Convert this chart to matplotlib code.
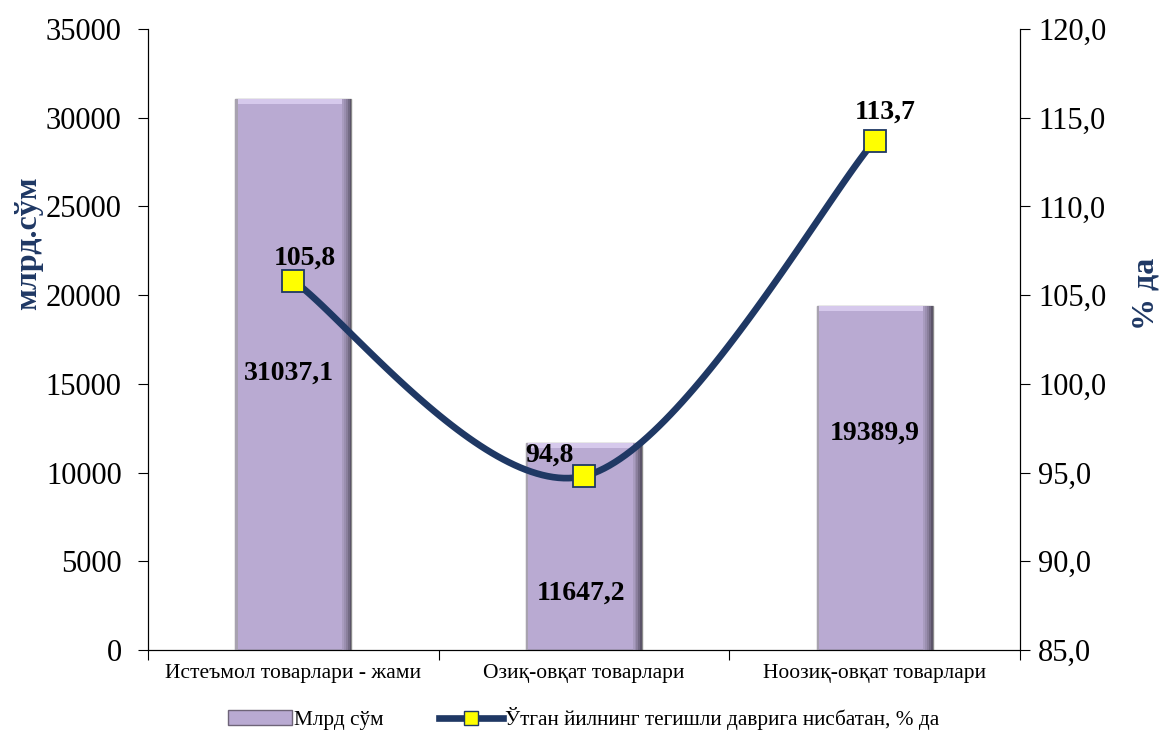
import numpy as np
import matplotlib.pyplot as plt
from matplotlib.lines import Line2D
from matplotlib.patches import Patch

plt.rcParams['font.family'] = ['Liberation Serif', 'DejaVu Serif']

categories = ["Истеъмол товарлари - жами", "Озиқ-овқат товарлари", "Ноозиқ-овқат товарлари"]
mlrd_sum = [31037.1, 11647.2, 19389.9]
percent = [105.8, 94.8, 113.7]
bar_labels = ["31037,1", "11647,2", "19389,9"]
pct_labels = ["105,8", "94,8", "113,7"]

navy = '#1f3864'
bar_color = '#b9aad2'

fig = plt.figure(figsize=(11.63, 7.35), dpi=100)
ax = fig.add_axes([0.1273, 0.1156, 0.7497, 0.845])
ax2 = ax.twinx()

x = np.arange(len(categories))
w = 0.4
ax.bar(x, mlrd_sum, width=w, color=bar_color, edgecolor='#8a8a8a', linewidth=1.0, zorder=2)
# bevel: light strip at the top, darker shading at the right edge
top = 260
ax.bar(x, [top] * 3, bottom=[v - top for v in mlrd_sum], width=w - 0.012,
       color='#d6c9ec', edgecolor='none', zorder=3)
shades = ['#a99cbf', '#9b8fb0', '#8a7f9c', '#736a84', '#5c5569']
sw = 0.0065
for k, c in enumerate(shades):
    ax.bar(x + w / 2 - sw * (len(shades) - k) + sw / 2, mlrd_sum, width=sw,
           color=c, edgecolor='none', zorder=3)
ax.bar(x - w / 2 + 0.004, mlrd_sum, width=0.008, color='#a8a2b0', edgecolor='none', zorder=3)

ax.set_xlim(-0.5, 2.5)
ax.set_ylim(0, 35000)
ax.set_yticks(range(0, 35001, 5000))
ax.tick_params(axis='y', labelsize=22, length=7, direction='out', pad=12)
ax.set_xticks([-0.5, 0.5, 1.5, 2.5], minor=False)
ax.set_xticklabels([])
ax.set_xticks(x, minor=True)
ax.set_xticklabels(categories, minor=True, fontsize=15.5)
ax.tick_params(axis='x', which='minor', length=0, pad=10)
ax.tick_params(axis='x', which='major', length=7)
ax.spines['top'].set_visible(False)
ax.set_ylabel("млрд.сўм", fontsize=23, fontweight='bold', color=navy)
ax.yaxis.set_label_coords(-0.137, 0.655)
ax.yaxis.label.set_va('center')

bar_pos = [(-0.014, 15600), (-0.01, 3210), (0.0, 12230)]
for xi, lab, (dx, yv) in zip(x, bar_labels, bar_pos):
    ax.text(xi + dx, yv, lab, ha='center', va='center', fontsize=20, fontweight='bold', zorder=5)

# smoothed line (Excel-like Bezier smoothing) in pixel-proportional space
ax2.set_ylim(85, 120)
sx = 872 / 3.0
sy = 621 / 35.0
P = np.array([[xi * sx, p * sy] for xi, p in zip(x, percent)])
pts = []
n = len(P)
for i in range(n - 1):
    p0 = P[i - 1] if i > 0 else P[i]
    p1, p2 = P[i], P[i + 1]
    p3 = P[i + 2] if i + 2 < n else P[i + 1]
    c1 = p1 + (p2 - p0) / 6
    c2 = p2 - (p3 - p1) / 6
    t = np.linspace(0, 1, 60)[:, None]
    seg = (1 - t) ** 3 * p1 + 3 * (1 - t) ** 2 * t * c1 + 3 * (1 - t) * t ** 2 * c2 + t ** 3 * p2
    pts.append(seg)
curve = np.vstack(pts)
ax2.plot(curve[:, 0] / sx, curve[:, 1] / sy, color=navy, linewidth=4.8, solid_capstyle='round', zorder=3)
ax2.plot(x, percent, linestyle='none', marker='s', markersize=16, markerfacecolor='#ffff00',
         markeredgecolor=navy, markeredgewidth=1.3, zorder=4)
ax2.set_yticks(np.arange(85, 120.1, 5))
ax2.set_yticklabels([f"{v:.1f}".replace('.', ',') for v in np.arange(85, 120.1, 5)])
ax2.tick_params(axis='y', labelsize=22, length=7, direction='out', pad=6)
ax2.spines['top'].set_visible(False)
ax2.set_ylabel("% да", fontsize=23, fontweight='bold', color=navy)
ax2.yaxis.set_label_coords(1.144, 0.573)
ax2.yaxis.label.set_va('center')

offs = [(0.04, 0.6), (-0.12, 0.5), (0.035, 0.9)]
for xi, p, lab, (dx, dy) in zip(x, percent, pct_labels, offs):
    ax2.text(xi + dx, p + dy, lab, ha='center', va='bottom', fontsize=20, fontweight='bold', zorder=5)

handles = [Patch(facecolor=bar_color, edgecolor='#6e6478'),
           Line2D([0], [0], color=navy, linewidth=4.8, marker='s', markersize=10,
                  markerfacecolor='#ffff00', markeredgecolor=navy)]
fig.legend(handles, ["Млрд сўм", "Ўтган йилнинг тегишли даврига нисбатан, % да"],
           loc='center', bbox_to_anchor=(0.502, 0.022), ncol=2, frameon=False, fontsize=15.3,
           handlelength=3, handletextpad=0.1, columnspacing=2.6)

fig.savefig('out.png', dpi=100)
